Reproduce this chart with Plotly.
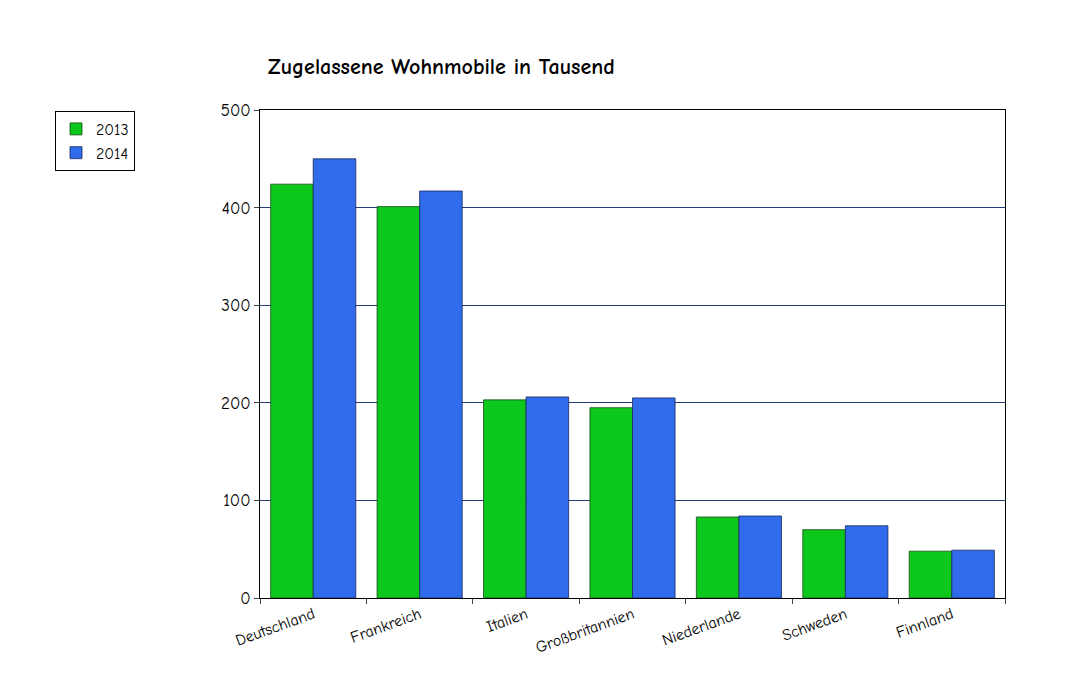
import plotly.graph_objects as go

COUNTRIES = ["Deutschland", "Frankreich", "Italien", "Großbritannien",
             "Niederlande", "Schweden", "Finnland"]
VALUES_2013 = [424, 401, 203, 195, 83, 70, 48]
VALUES_2014 = [450, 417, 206, 205, 84, 74, 49]

FONT = "Comic Sans MS, Comic Neue, DejaVu Sans, sans-serif"

fig = go.Figure()
fig.add_bar(x=COUNTRIES, y=VALUES_2013, name="2013",
            marker=dict(color="#0cc81c", line=dict(color="#1a4a1a", width=0.8)))
fig.add_bar(x=COUNTRIES, y=VALUES_2014, name="2014",
            marker=dict(color="#2f6bea", line=dict(color="#1a2a5a", width=0.8)))

fig.update_layout(
    width=1085, height=697,
    paper_bgcolor="white", plot_bgcolor="white",
    margin=dict(l=252, r=88, t=102, b=107, autoexpand=False),
    font=dict(family=FONT, size=16, color="black"),
    title=dict(text="<b>Zugelassene Wohnmobile in Tausend</b>",
               x=260 / 1085, xanchor="left", xref="container",
               y=1 - 58 / 697, yanchor="middle", yref="container",
               font=dict(size=22)),
    bargap=0.2, bargroupgap=0,
    legend=dict(x=47 / 1085, xref="container", y=1 - 103 / 697, yref="container",
                xanchor="left", yanchor="top",
                bordercolor="black", borderwidth=1, bgcolor="white",
                font=dict(size=16)),
    xaxis=dict(showline=True, linecolor="black", mirror=True,
               ticks="outside", tickson="boundaries", ticklen=5,
               tickangle=-20, tickfont=dict(size=16)),
    yaxis=dict(range=[0, 500], dtick=100, showline=True, linecolor="black",
               mirror=True, ticks="outside", ticklen=5,
               showgrid=True, gridcolor="#1f3c78", gridwidth=1,
               zeroline=False, tickfont=dict(size=17)),
)

fig.write_html("out.html")
